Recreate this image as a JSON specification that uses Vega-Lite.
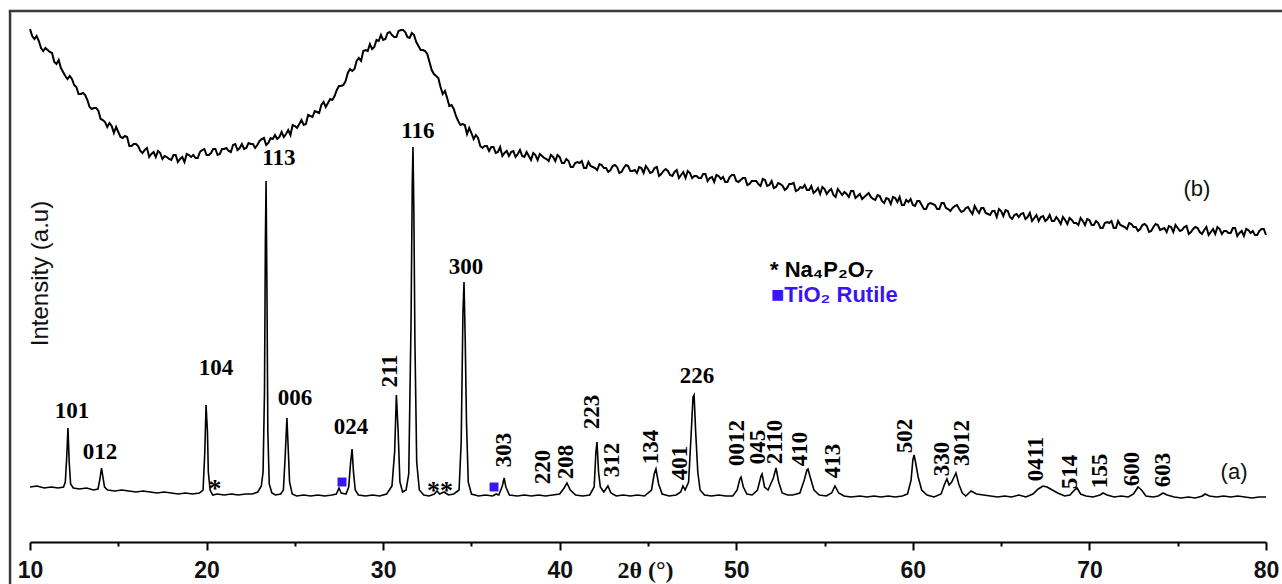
{
  "$schema": "https://vega.github.io/schema/vega-lite/v6.json",
  "width": 1236,
  "height": 532,
  "autosize": {"type": "none"},
  "padding": {"left": 30, "top": 10, "right": 16, "bottom": 42},
  "background": "white",
  "config": {"view": {"stroke": null}, "axis": {"grid": false}},
  "datasets": {
    "b": [
      {"t":10.00,"v":513},{"t":10.25,"v":503},{"t":10.50,"v":501},{"t":10.75,"v":491},{"t":11.00,"v":492},{"t":11.25,"v":489},{"t":11.50,"v":478},{"t":11.75,"v":474},
      {"t":12.00,"v":466},{"t":12.25,"v":466},{"t":12.50,"v":457},{"t":12.75,"v":448},{"t":13.00,"v":449},{"t":13.25,"v":442},{"t":13.50,"v":433},{"t":13.75,"v":434},
      {"t":14.00,"v":423},{"t":14.25,"v":420},{"t":14.50,"v":419},{"t":14.75,"v":409},{"t":15.00,"v":410},{"t":15.25,"v":404},{"t":15.50,"v":405},{"t":15.75,"v":396},
      {"t":16.00,"v":398},{"t":16.25,"v":391},{"t":16.50,"v":392},{"t":16.75,"v":385},{"t":17.00,"v":390},{"t":17.25,"v":391},{"t":17.50,"v":383},{"t":17.75,"v":385},
      {"t":18.00,"v":382},{"t":18.25,"v":387},{"t":18.50,"v":383},{"t":18.75,"v":380},{"t":19.00,"v":387},{"t":19.25,"v":387},{"t":19.50,"v":384},{"t":19.75,"v":392},
      {"t":20.00,"v":387},{"t":20.25,"v":389},{"t":20.50,"v":393},{"t":20.75,"v":388},{"t":21.00,"v":393},{"t":21.25,"v":391},{"t":21.50,"v":397},{"t":21.75,"v":392},
      {"t":22.00,"v":398},{"t":22.25,"v":394},{"t":22.50,"v":398},{"t":22.75,"v":394},{"t":23.00,"v":401},{"t":23.25,"v":404},{"t":23.50,"v":399},{"t":23.75,"v":403},
      {"t":24.00,"v":403},{"t":24.25,"v":410},{"t":24.50,"v":408},{"t":24.75,"v":407},{"t":25.00,"v":416},{"t":25.25,"v":418},{"t":25.50,"v":417},{"t":25.75,"v":427},
      {"t":26.00,"v":425},{"t":26.25,"v":430},{"t":26.50,"v":437},{"t":26.75,"v":435},{"t":27.00,"v":443},{"t":27.25,"v":446},{"t":27.50,"v":456},{"t":27.75,"v":457},
      {"t":28.00,"v":469},{"t":28.25,"v":471},{"t":28.50,"v":481},{"t":28.75,"v":481},{"t":29.00,"v":492},{"t":29.25,"v":498},{"t":29.50,"v":495},{"t":29.75,"v":501},
      {"t":30.00,"v":502},{"t":30.25,"v":509},{"t":30.50,"v":507},{"t":30.75,"v":505},{"t":31.00,"v":512},{"t":31.25,"v":510},{"t":31.50,"v":504},{"t":31.75,"v":507},
      {"t":32.00,"v":496},{"t":32.25,"v":492},{"t":32.50,"v":488},{"t":32.75,"v":472},{"t":33.00,"v":466},{"t":33.25,"v":455},{"t":33.50,"v":451},{"t":33.75,"v":436},
      {"t":34.00,"v":433},{"t":34.25,"v":421},{"t":34.50,"v":418},{"t":34.75,"v":408},{"t":35.00,"v":409},{"t":35.25,"v":407},{"t":35.50,"v":396},{"t":35.75,"v":396},
      {"t":36.00,"v":391},{"t":36.25,"v":395},{"t":36.50,"v":390},{"t":36.75,"v":386},{"t":37.00,"v":391},{"t":37.25,"v":390},{"t":37.50,"v":385},{"t":37.75,"v":392},
      {"t":38.00,"v":385},{"t":38.25,"v":386},{"t":38.50,"v":389},{"t":38.75,"v":382},{"t":39.00,"v":386},{"t":39.25,"v":383},{"t":39.50,"v":387},{"t":39.75,"v":381},
      {"t":40.00,"v":385},{"t":40.25,"v":379},{"t":40.50,"v":381},{"t":40.75,"v":375},{"t":41.00,"v":380},{"t":41.25,"v":381},{"t":41.50,"v":374},{"t":41.75,"v":376},
      {"t":42.00,"v":374},{"t":42.25,"v":378},{"t":42.50,"v":374},{"t":42.75,"v":370},{"t":43.00,"v":376},{"t":43.25,"v":375},{"t":43.50,"v":370},{"t":43.75,"v":377},
      {"t":44.00,"v":371},{"t":44.25,"v":372},{"t":44.50,"v":375},{"t":44.75,"v":369},{"t":45.00,"v":373},{"t":45.25,"v":370},{"t":45.50,"v":375},{"t":45.75,"v":368},
      {"t":46.00,"v":373},{"t":46.25,"v":367},{"t":46.50,"v":370},{"t":46.75,"v":364},{"t":47.00,"v":370},{"t":47.25,"v":371},{"t":47.50,"v":364},{"t":47.75,"v":366},
      {"t":48.00,"v":364},{"t":48.25,"v":368},{"t":48.50,"v":364},{"t":48.75,"v":360},{"t":49.00,"v":366},{"t":49.25,"v":365},{"t":49.50,"v":360},{"t":49.75,"v":367},
      {"t":50.00,"v":361},{"t":50.25,"v":362},{"t":50.50,"v":364},{"t":50.75,"v":358},{"t":51.00,"v":361},{"t":51.25,"v":358},{"t":51.50,"v":363},{"t":51.75,"v":356},
      {"t":52.00,"v":361},{"t":52.25,"v":355},{"t":52.50,"v":358},{"t":52.75,"v":352},{"t":53.00,"v":358},{"t":53.25,"v":359},{"t":53.50,"v":352},{"t":53.75,"v":354},
      {"t":54.00,"v":352},{"t":54.25,"v":356},{"t":54.50,"v":351},{"t":54.75,"v":348},{"t":55.00,"v":353},{"t":55.25,"v":351},{"t":55.50,"v":347},{"t":55.75,"v":353},
      {"t":56.00,"v":347},{"t":56.25,"v":348},{"t":56.50,"v":351},{"t":56.75,"v":344},{"t":57.00,"v":348},{"t":57.25,"v":345},{"t":57.50,"v":349},{"t":57.75,"v":343},
      {"t":58.00,"v":347},{"t":58.25,"v":341},{"t":58.50,"v":344},{"t":58.75,"v":338},{"t":59.00,"v":344},{"t":59.25,"v":345},{"t":59.50,"v":337},{"t":59.75,"v":340},
      {"t":60.00,"v":337},{"t":60.25,"v":341},{"t":60.50,"v":337},{"t":60.75,"v":333},{"t":61.00,"v":339},{"t":61.25,"v":337},{"t":61.50,"v":333},{"t":61.75,"v":339},
      {"t":62.00,"v":333},{"t":62.25,"v":334},{"t":62.50,"v":337},{"t":62.75,"v":330},{"t":63.00,"v":334},{"t":63.25,"v":331},{"t":63.50,"v":336},{"t":63.75,"v":329},
      {"t":64.00,"v":334},{"t":64.25,"v":328},{"t":64.50,"v":331},{"t":64.75,"v":325},{"t":65.00,"v":331},{"t":65.25,"v":332},{"t":65.50,"v":325},{"t":65.75,"v":327},
      {"t":66.00,"v":325},{"t":66.25,"v":329},{"t":66.50,"v":325},{"t":66.75,"v":321},{"t":67.00,"v":327},{"t":67.25,"v":325},{"t":67.50,"v":321},{"t":67.75,"v":327},
      {"t":68.00,"v":321},{"t":68.25,"v":322},{"t":68.50,"v":325},{"t":68.75,"v":318},{"t":69.00,"v":322},{"t":69.25,"v":319},{"t":69.50,"v":324},{"t":69.75,"v":317},
      {"t":70.00,"v":322},{"t":70.25,"v":317},{"t":70.50,"v":319},{"t":70.75,"v":314},{"t":71.00,"v":320},{"t":71.25,"v":321},{"t":71.50,"v":314},{"t":71.75,"v":317},
      {"t":72.00,"v":315},{"t":72.25,"v":319},{"t":72.50,"v":315},{"t":72.75,"v":311},{"t":73.00,"v":317},{"t":73.25,"v":316},{"t":73.50,"v":311},{"t":73.75,"v":318},
      {"t":74.00,"v":312},{"t":74.25,"v":314},{"t":74.50,"v":316},{"t":74.75,"v":310},{"t":75.00,"v":314},{"t":75.25,"v":312},{"t":75.50,"v":316},{"t":75.75,"v":310},
      {"t":76.00,"v":315},{"t":76.25,"v":310},{"t":76.50,"v":312},{"t":76.75,"v":307},{"t":77.00,"v":313},{"t":77.25,"v":315},{"t":77.50,"v":308},{"t":77.75,"v":311},
      {"t":78.00,"v":309},{"t":78.25,"v":314},{"t":78.50,"v":309},{"t":78.75,"v":306},{"t":79.00,"v":312},{"t":79.25,"v":311},{"t":79.50,"v":307},{"t":79.75,"v":313},
      {"t":80.00,"v":307},
      {"t":10.125,"v":506},{"t":10.375,"v":506},{"t":10.625,"v":494},{"t":10.875,"v":494},{"t":11.125,"v":490},{"t":11.375,"v":480},{"t":11.625,"v":482},{"t":11.875,"v":470},
      {"t":12.125,"v":463},{"t":12.375,"v":463},{"t":12.625,"v":455},{"t":12.875,"v":448},{"t":13.125,"v":447},{"t":13.375,"v":435},{"t":13.625,"v":434},{"t":13.875,"v":431},
      {"t":14.125,"v":422},{"t":14.375,"v":415},{"t":14.625,"v":416},{"t":14.875,"v":415},{"t":15.125,"v":405},{"t":15.375,"v":406},{"t":15.625,"v":396},{"t":15.875,"v":398},
      {"t":16.125,"v":396},{"t":16.375,"v":389},{"t":16.625,"v":394},{"t":16.875,"v":388},{"t":17.125,"v":385},{"t":17.375,"v":389},{"t":17.625,"v":386},{"t":17.875,"v":383},
      {"t":18.125,"v":387},{"t":18.375,"v":380},{"t":18.625,"v":385},{"t":18.875,"v":388},{"t":19.125,"v":385},{"t":19.375,"v":384},{"t":19.625,"v":390},{"t":19.875,"v":393},
      {"t":20.125,"v":387},{"t":20.375,"v":393},{"t":20.625,"v":387},{"t":20.875,"v":393},{"t":21.125,"v":394},{"t":21.375,"v":390},{"t":21.625,"v":398},{"t":21.875,"v":394},
      {"t":22.125,"v":393},{"t":22.375,"v":399},{"t":22.625,"v":398},{"t":22.875,"v":397},{"t":23.125,"v":403},{"t":23.375,"v":397},{"t":23.625,"v":404},{"t":23.875,"v":407},
      {"t":24.125,"v":405},{"t":24.375,"v":405},{"t":24.625,"v":412},{"t":24.875,"v":417},{"t":25.125,"v":414},{"t":25.375,"v":422},{"t":25.625,"v":418},{"t":25.875,"v":426},
      {"t":26.125,"v":431},{"t":26.375,"v":429},{"t":26.625,"v":440},{"t":26.875,"v":439},{"t":27.125,"v":442},{"t":27.375,"v":452},{"t":27.625,"v":456},{"t":27.875,"v":461},
      {"t":28.125,"v":473},{"t":28.375,"v":473},{"t":28.625,"v":484},{"t":28.875,"v":491},{"t":29.125,"v":491},{"t":29.375,"v":493},{"t":29.625,"v":502},{"t":29.875,"v":507},
      {"t":30.125,"v":503},{"t":30.375,"v":510},{"t":30.625,"v":505},{"t":30.875,"v":511},{"t":31.125,"v":512},{"t":31.375,"v":505},{"t":31.625,"v":509},{"t":31.875,"v":500},
      {"t":32.125,"v":492},{"t":32.375,"v":491},{"t":32.625,"v":480},{"t":32.875,"v":468},{"t":33.125,"v":464},{"t":33.375,"v":448},{"t":33.625,"v":444},{"t":33.875,"v":437},
      {"t":34.125,"v":426},{"t":34.375,"v":417},{"t":34.625,"v":417},{"t":34.875,"v":414},{"t":35.125,"v":403},{"t":35.375,"v":404},{"t":35.625,"v":394},{"t":35.875,"v":396},
      {"t":36.125,"v":395},{"t":36.375,"v":389},{"t":36.625,"v":395},{"t":36.875,"v":389},{"t":37.125,"v":386},{"t":37.375,"v":391},{"t":37.625,"v":388},{"t":37.875,"v":386},
      {"t":38.125,"v":390},{"t":38.375,"v":382},{"t":38.625,"v":387},{"t":38.875,"v":388},{"t":39.125,"v":384},{"t":39.375,"v":381},{"t":39.625,"v":385},{"t":39.875,"v":387},
      {"t":40.125,"v":379},{"t":40.375,"v":383},{"t":40.625,"v":375},{"t":40.875,"v":379},{"t":41.125,"v":379},{"t":41.375,"v":374},{"t":41.625,"v":380},{"t":41.875,"v":375},
      {"t":42.125,"v":372},{"t":42.375,"v":377},{"t":42.625,"v":374},{"t":42.875,"v":372},{"t":43.125,"v":377},{"t":43.375,"v":369},{"t":43.625,"v":374},{"t":43.875,"v":376},
      {"t":44.125,"v":371},{"t":44.375,"v":369},{"t":44.625,"v":374},{"t":44.875,"v":376},{"t":45.125,"v":369},{"t":45.375,"v":374},{"t":45.625,"v":366},{"t":45.875,"v":371},
      {"t":46.125,"v":371},{"t":46.375,"v":366},{"t":46.625,"v":372},{"t":46.875,"v":367},{"t":47.125,"v":364},{"t":47.375,"v":369},{"t":47.625,"v":366},{"t":47.875,"v":364},
      {"t":48.125,"v":368},{"t":48.375,"v":361},{"t":48.625,"v":365},{"t":48.875,"v":367},{"t":49.125,"v":363},{"t":49.375,"v":360},{"t":49.625,"v":365},{"t":49.875,"v":367},
      {"t":50.125,"v":360},{"t":50.375,"v":364},{"t":50.625,"v":357},{"t":50.875,"v":361},{"t":51.125,"v":361},{"t":51.375,"v":356},{"t":51.625,"v":362},{"t":51.875,"v":357},
      {"t":52.125,"v":354},{"t":52.375,"v":359},{"t":52.625,"v":356},{"t":52.875,"v":354},{"t":53.125,"v":358},{"t":53.375,"v":351},{"t":53.625,"v":355},{"t":53.875,"v":357},
      {"t":54.125,"v":352},{"t":54.375,"v":349},{"t":54.625,"v":354},{"t":54.875,"v":355},{"t":55.125,"v":348},{"t":55.375,"v":353},{"t":55.625,"v":345},{"t":55.875,"v":350},
      {"t":56.125,"v":350},{"t":56.375,"v":345},{"t":56.625,"v":351},{"t":56.875,"v":346},{"t":57.125,"v":343},{"t":57.375,"v":347},{"t":57.625,"v":345},{"t":57.875,"v":342},
      {"t":58.125,"v":346},{"t":58.375,"v":339},{"t":58.625,"v":343},{"t":58.875,"v":345},{"t":59.125,"v":340},{"t":59.375,"v":337},{"t":59.625,"v":342},{"t":59.875,"v":343},
      {"t":60.125,"v":336},{"t":60.375,"v":341},{"t":60.625,"v":333},{"t":60.875,"v":338},{"t":61.125,"v":338},{"t":61.375,"v":333},{"t":61.625,"v":339},{"t":61.875,"v":334},
      {"t":62.125,"v":331},{"t":62.375,"v":336},{"t":62.625,"v":333},{"t":62.875,"v":331},{"t":63.125,"v":335},{"t":63.375,"v":328},{"t":63.625,"v":332},{"t":63.875,"v":334},
      {"t":64.125,"v":329},{"t":64.375,"v":327},{"t":64.625,"v":331},{"t":64.875,"v":333},{"t":65.125,"v":326},{"t":65.375,"v":331},{"t":65.625,"v":323},{"t":65.875,"v":328},
      {"t":66.125,"v":328},{"t":66.375,"v":323},{"t":66.625,"v":329},{"t":66.875,"v":324},{"t":67.125,"v":321},{"t":67.375,"v":326},{"t":67.625,"v":323},{"t":67.875,"v":321},
      {"t":68.125,"v":325},{"t":68.375,"v":318},{"t":68.625,"v":322},{"t":68.875,"v":324},{"t":69.125,"v":319},{"t":69.375,"v":317},{"t":69.625,"v":321},{"t":69.875,"v":323},
      {"t":70.125,"v":317},{"t":70.375,"v":321},{"t":70.625,"v":314},{"t":70.875,"v":319},{"t":71.125,"v":319},{"t":71.375,"v":314},{"t":71.625,"v":321},{"t":71.875,"v":316},
      {"t":72.125,"v":313},{"t":72.375,"v":318},{"t":72.625,"v":315},{"t":72.875,"v":313},{"t":73.125,"v":318},{"t":73.375,"v":310},{"t":73.625,"v":315},{"t":73.875,"v":317},
      {"t":74.125,"v":313},{"t":74.375,"v":310},{"t":74.625,"v":315},{"t":74.875,"v":317},{"t":75.125,"v":311},{"t":75.375,"v":315},{"t":75.625,"v":308},{"t":75.875,"v":313},
      {"t":76.125,"v":314},{"t":76.375,"v":308},{"t":76.625,"v":315},{"t":76.875,"v":310},{"t":77.125,"v":308},{"t":77.375,"v":313},{"t":77.625,"v":311},{"t":77.875,"v":309},
      {"t":78.125,"v":314},{"t":78.375,"v":306},{"t":78.625,"v":311},{"t":78.875,"v":313},{"t":79.125,"v":309},{"t":79.375,"v":307},{"t":79.625,"v":311},{"t":79.875,"v":313}
    ],
    "a": [
      {"t":10.0,"v":55},{"t":10.4,"v":56},{"t":10.8,"v":54},{"t":11.2,"v":55},{"t":11.6,"v":54},{"t":11.9,"v":55},{"t":12.0,"v":60},{"t":12.08,"v":85},{"t":12.15,"v":114},{"t":12.22,"v":80},{"t":12.3,"v":58},{"t":12.45,"v":54},
      {"t":12.8,"v":53},{"t":13.2,"v":54},{"t":13.6,"v":52},{"t":13.85,"v":53},{"t":13.95,"v":62},{"t":14.05,"v":74},{"t":14.12,"v":66},{"t":14.22,"v":55},{"t":14.4,"v":52},
      {"t":14.8,"v":51},{"t":15.2,"v":52},{"t":15.6,"v":51},{"t":16.0,"v":50},{"t":16.4,"v":51},{"t":16.8,"v":50},{"t":17.2,"v":49},{"t":17.6,"v":50},{"t":18.0,"v":49},{"t":18.4,"v":48},{"t":18.8,"v":49},{"t":19.2,"v":48},{"t":19.6,"v":49},
      {"t":19.8,"v":52},{"t":19.9,"v":90},{"t":19.97,"v":137},{"t":20.05,"v":110},{"t":20.1,"v":70},{"t":20.2,"v":52},{"t":20.35,"v":47},{"t":20.6,"v":48},{"t":21.0,"v":47},{"t":21.4,"v":48},{"t":21.8,"v":47},{"t":22.2,"v":48},{"t":22.6,"v":48},
      {"t":22.9,"v":50},{"t":23.1,"v":56},{"t":23.2,"v":70},{"t":23.28,"v":150},{"t":23.33,"v":300},{"t":23.37,"v":361},{"t":23.42,"v":250},{"t":23.47,"v":110},{"t":23.55,"v":58},{"t":23.7,"v":49},{"t":23.9,"v":47},
      {"t":24.2,"v":48},{"t":24.35,"v":52},{"t":24.45,"v":85},{"t":24.55,"v":124},{"t":24.62,"v":95},{"t":24.7,"v":60},{"t":24.85,"v":48},{"t":25.1,"v":46},{"t":25.5,"v":47},{"t":25.9,"v":46},{"t":26.3,"v":47},{"t":26.7,"v":46},{"t":27.1,"v":47},
      {"t":27.35,"v":48},{"t":27.5,"v":54},{"t":27.62,"v":49},{"t":27.9,"v":48},{"t":28.05,"v":55},{"t":28.15,"v":78},{"t":28.24,"v":93},{"t":28.32,"v":70},{"t":28.42,"v":52},{"t":28.6,"v":47},{"t":29.0,"v":46},{"t":29.4,"v":47},{"t":29.8,"v":46},
      {"t":30.2,"v":48},{"t":30.5,"v":56},{"t":30.65,"v":90},{"t":30.75,"v":147},{"t":30.85,"v":110},{"t":30.95,"v":60},{"t":31.1,"v":50},{"t":31.3,"v":52},{"t":31.45,"v":68},{"t":31.58,"v":220},{"t":31.65,"v":360},{"t":31.69,"v":395},{"t":31.74,"v":330},{"t":31.8,"v":200},{"t":31.9,"v":80},{"t":32.05,"v":52},
      {"t":32.3,"v":47},{"t":32.6,"v":46},{"t":32.9,"v":48},{"t":33.05,"v":51},{"t":33.2,"v":48},{"t":33.45,"v":50},{"t":33.7,"v":47},{"t":34.0,"v":48},{"t":34.3,"v":52},{"t":34.42,"v":100},{"t":34.52,"v":230},{"t":34.58,"v":260},{"t":34.65,"v":200},{"t":34.72,"v":120},{"t":34.82,"v":60},
      {"t":35.0,"v":48},{"t":35.4,"v":46},{"t":35.8,"v":47},{"t":36.2,"v":46},{"t":36.4,"v":48},{"t":36.55,"v":47},{"t":36.75,"v":56},{"t":36.85,"v":64},{"t":36.95,"v":55},{"t":37.15,"v":47},{"t":37.6,"v":46},{"t":38.0,"v":47},{"t":38.4,"v":46},{"t":38.8,"v":47},{"t":39.2,"v":46},{"t":39.6,"v":47},
      {"t":40.0,"v":48},{"t":40.25,"v":54},{"t":40.41,"v":59},{"t":40.6,"v":52},{"t":40.9,"v":47},{"t":41.3,"v":46},{"t":41.7,"v":47},{"t":41.95,"v":55},{"t":42.05,"v":90},{"t":42.11,"v":100},{"t":42.2,"v":70},{"t":42.3,"v":55},{"t":42.5,"v":50},{"t":42.73,"v":56},{"t":42.9,"v":49},
      {"t":43.2,"v":46},{"t":43.6,"v":47},{"t":44.0,"v":46},{"t":44.4,"v":47},{"t":44.8,"v":46},{"t":45.2,"v":52},{"t":45.35,"v":68},{"t":45.45,"v":73},{"t":45.6,"v":58},{"t":45.8,"v":48},{"t":46.2,"v":46},{"t":46.6,"v":47},{"t":46.85,"v":50},{"t":46.98,"v":56},{"t":47.1,"v":52},
      {"t":47.3,"v":60},{"t":47.45,"v":110},{"t":47.55,"v":145},{"t":47.61,"v":147},{"t":47.7,"v":110},{"t":47.82,"v":70},{"t":47.95,"v":52},{"t":48.2,"v":47},{"t":48.6,"v":46},{"t":49.0,"v":47},{"t":49.4,"v":46},{"t":49.8,"v":46},
      {"t":50.05,"v":52},{"t":50.2,"v":63},{"t":50.27,"v":65},{"t":50.4,"v":55},{"t":50.6,"v":48},{"t":50.9,"v":47},{"t":51.2,"v":52},{"t":51.4,"v":66},{"t":51.46,"v":68},{"t":51.6,"v":55},{"t":51.8,"v":52},{"t":52.1,"v":64},{"t":52.25,"v":74},{"t":52.4,"v":60},{"t":52.6,"v":49},
      {"t":52.9,"v":47},{"t":53.2,"v":47},{"t":53.6,"v":49},{"t":53.85,"v":62},{"t":54.0,"v":72},{"t":54.06,"v":73},{"t":54.2,"v":64},{"t":54.4,"v":52},{"t":54.7,"v":47},{"t":55.1,"v":46},{"t":55.4,"v":49},{"t":55.59,"v":56},{"t":55.8,"v":49},
      {"t":56.1,"v":46},{"t":56.5,"v":45},{"t":57.0,"v":46},{"t":57.4,"v":45},{"t":57.8,"v":46},{"t":58.2,"v":45},{"t":58.6,"v":46},{"t":59.0,"v":45},{"t":59.4,"v":46},{"t":59.7,"v":48},{"t":59.9,"v":62},{"t":60.0,"v":82},{"t":60.07,"v":87},{"t":60.15,"v":80},{"t":60.3,"v":65},{"t":60.5,"v":52},
      {"t":60.8,"v":47},{"t":61.2,"v":45},{"t":61.6,"v":48},{"t":61.8,"v":58},{"t":61.93,"v":63},{"t":62.05,"v":57},{"t":62.2,"v":60},{"t":62.44,"v":69},{"t":62.6,"v":58},{"t":62.8,"v":49},{"t":63.0,"v":46},{"t":63.3,"v":51},{"t":63.6,"v":48},
      {"t":64.0,"v":47},{"t":64.4,"v":46},{"t":64.8,"v":45},{"t":65.2,"v":46},{"t":65.6,"v":45},{"t":66.0,"v":47},{"t":66.4,"v":45},{"t":66.8,"v":48},{"t":67.1,"v":53},{"t":67.37,"v":56},{"t":67.6,"v":55},{"t":67.9,"v":52},{"t":68.2,"v":49},{"t":68.6,"v":46},
      {"t":68.9,"v":47},{"t":69.15,"v":52},{"t":69.3,"v":54},{"t":69.5,"v":48},{"t":69.8,"v":46},{"t":70.2,"v":45},{"t":70.6,"v":47},{"t":70.77,"v":49},{"t":71.0,"v":47},{"t":71.4,"v":45},{"t":71.8,"v":46},{"t":72.2,"v":45},{"t":72.5,"v":48},{"t":72.75,"v":55},{"t":72.95,"v":52},
      {"t":73.2,"v":46},{"t":73.6,"v":45},{"t":73.9,"v":46},{"t":74.17,"v":49},{"t":74.4,"v":47},{"t":74.8,"v":45},{"t":75.2,"v":44},{"t":75.6,"v":45},{"t":76.0,"v":44},{"t":76.4,"v":46},{"t":76.55,"v":48},{"t":76.8,"v":46},{"t":77.2,"v":45},{"t":77.6,"v":46},
      {"t":78.0,"v":45},{"t":78.4,"v":46},{"t":78.8,"v":45},{"t":79.2,"v":44},{"t":79.6,"v":45},{"t":80.0,"v":45}
    ],
    "hlab": [
      {"t":12.38,"v":131,"s":"101"},{"t":13.96,"v":90,"s":"012"},{"t":20.53,"v":174,"s":"104"},{"t":24.10,"v":384,"s":"113"},
      {"t":25.01,"v":144,"s":"006"},{"t":28.18,"v":115,"s":"024"},{"t":31.97,"v":411,"s":"116"},{"t":34.69,"v":275,"s":"300"},{"t":47.77,"v":166,"s":"226"}
    ],
    "rlab": [
      {"t":30.39,"v":171,"s":"211"},{"t":36.84,"v":92,"s":"303"},{"t":39.05,"v":75,"s":"220"},{"t":40.36,"v":80,"s":"208"},{"t":41.83,"v":130,"s":"223"},
      {"t":42.96,"v":82,"s":"312"},{"t":45.17,"v":95,"s":"134"},{"t":46.81,"v":79,"s":"401"},{"t":50.04,"v":99,"s":"0012"},{"t":51.23,"v":95,"s":"045"},
      {"t":52.19,"v":100,"s":"2110"},{"t":53.61,"v":93,"s":"410"},{"t":55.48,"v":81,"s":"413"},{"t":59.56,"v":106,"s":"502"},{"t":61.65,"v":83,"s":"330"},
      {"t":62.78,"v":99,"s":"3012"},{"t":66.97,"v":83,"s":"0411"},{"t":68.90,"v":70,"s":"514"},{"t":70.60,"v":71,"s":"155"},{"t":72.41,"v":73,"s":"600"},{"t":74.17,"v":72,"s":"603"}
    ],
    "ab": [
      {"t":78.19,"v":70,"s":"(a)"},{"t":76.09,"v":353,"s":"(b)"}
    ],
    "star": [
      {"t":20.48,"v":58,"s":"*"},{"t":33.22,"v":56,"s":"**"}
    ],
    "sq": [
      {"t":27.67,"v":60},{"t":36.28,"v":55}
    ],
    "leg": [
      {"t":51.91,"v":272,"s":"* Na₄P₂O₇","c":"k"},{"t":51.97,"v":247,"s":"■TiO₂ Rutile","c":"b"}
    ],
    "frame": [
      {"t":8.87,"v":531,"t2":8.87,"v2":-70},
      {"t":8.8,"v":531,"t2":83,"v2":531}
    ]
  },
  "encoding": {
    "x": {
      "field": "t", "type": "quantitative",
      "scale": {"domain": [10, 80], "nice": false, "zero": false},
      "axis": {
        "title": "2θ (°)",
        "values": [10,15,20,25,30,35,40,45,50,55,60,65,70,75,80],
        "labelExpr": "datum.value % 10 === 0 ? datum.label : ''",
        "domainColor": "#000", "domainWidth": 2,
        "tickColor": "#000", "tickWidth": 2,
        "tickSize": {"condition": {"test": "datum.value % 10 === 0", "value": 8}, "value": 4},
        "labelFont": "Liberation Sans", "labelFontWeight": "bold", "labelFontSize": 23, "labelColor": "#111",
        "labelPadding": 9, "labelFlush": false, "labelOverlap": false,
        "titleFont": "Liberation Serif", "titleFontWeight": "bold", "titleFontSize": 24, "titleColor": "#111",
        "titleX": 615, "titleY": 28, "titleBaseline": "middle", "titleAlign": "center"
      }
    },
    "y": {
      "field": "v", "type": "quantitative",
      "scale": {"domain": [0, 532], "nice": false, "zero": false},
      "axis": {
        "title": "Intensity (a.u)",
        "domain": false, "ticks": false, "labels": false, "grid": false,
        "titleX": 10, "titleY": 263, "titleAngle": -90, "titleAlign": "center", "titleBaseline": "middle",
        "titleFont": "Liberation Sans", "titleFontSize": 24, "titleFontWeight": "normal", "titleColor": "#111"
      }
    }
  },
  "layer": [
    {
      "data": {"name": "frame"},
      "mark": {"type": "rule", "color": "#3a3a3a", "strokeWidth": 2.5, "clip": false},
      "encoding": {"x2": {"field": "t2"}, "y2": {"field": "v2"}}
    },
    {
      "data": {"name": "b"},
      "mark": {"type": "line", "color": "#000", "strokeWidth": 2},
      "encoding": {}
    },
    {
      "data": {"name": "a"},
      "mark": {"type": "line", "color": "#000", "strokeWidth": 1.6},
      "encoding": {}
    },
    {
      "data": {"name": "hlab"},
      "mark": {"type": "text", "font": "Liberation Serif", "fontWeight": "bold", "fontSize": 23, "color": "#000", "align": "center", "baseline": "middle"},
      "encoding": {"text": {"field": "s"}}
    },
    {
      "data": {"name": "rlab"},
      "mark": {"type": "text", "font": "Liberation Serif", "fontWeight": "bold", "fontSize": 23, "color": "#000", "align": "center", "baseline": "middle", "angle": 270},
      "encoding": {"text": {"field": "s"}}
    },
    {
      "data": {"name": "ab"},
      "mark": {"type": "text", "font": "Liberation Sans", "fontSize": 22, "color": "#111", "align": "center", "baseline": "middle"},
      "encoding": {"text": {"field": "s"}}
    },
    {
      "data": {"name": "star"},
      "mark": {"type": "text", "font": "Liberation Serif", "fontWeight": "bold", "fontSize": 26, "color": "#000", "align": "center", "baseline": "middle", "dy": 5},
      "encoding": {"text": {"field": "s"}}
    },
    {
      "data": {"name": "sq"},
      "mark": {"type": "point", "shape": "square", "filled": true, "size": 80, "color": "#3a14f2", "opacity": 1},
      "encoding": {}
    },
    {
      "data": {"name": "leg"},
      "mark": {"type": "text", "font": "Liberation Sans", "fontWeight": "bold", "fontSize": 22, "align": "left", "baseline": "middle"},
      "encoding": {
        "text": {"field": "s"},
        "color": {"field": "c", "type": "nominal", "scale": {"domain": ["k", "b"], "range": ["#000000", "#3a14f2"]}, "legend": null}
      }
    }
  ]
}
